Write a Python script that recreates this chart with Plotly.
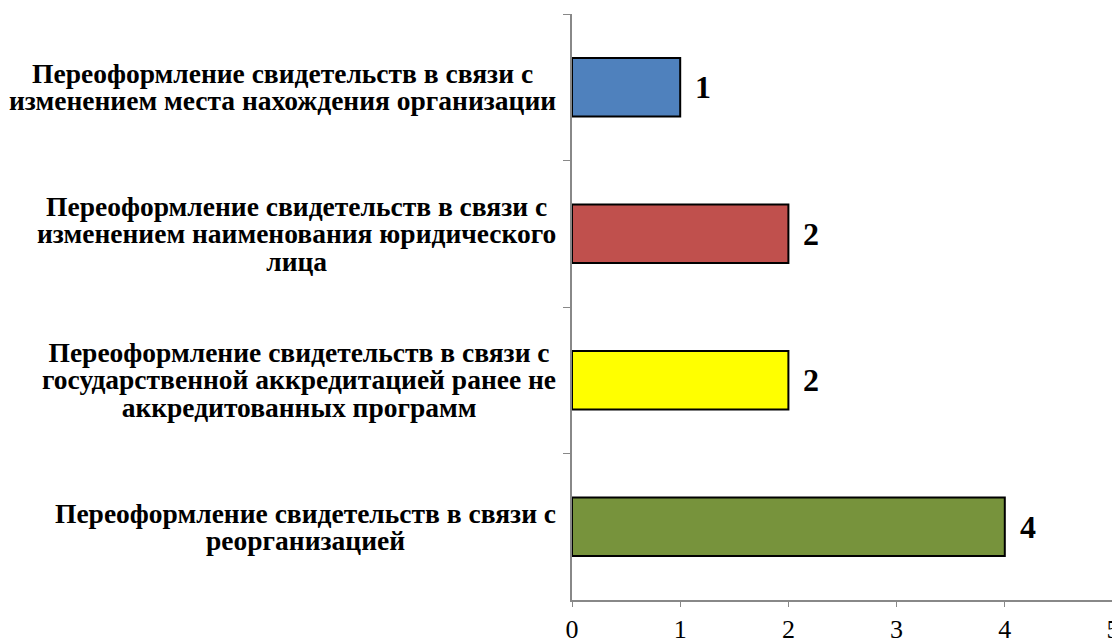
import plotly.graph_objects as go

categories = [
    "Переоформление свидетельств в связи с<br>изменением места нахождения организации",
    "Переоформление свидетельств в связи с<br>изменением наименования юридического<br>лица",
    "Переоформление свидетельств в связи с<br>государственной аккредитацией ранее не<br>аккредитованных программ",
    "Переоформление свидетельств в связи с<br>реорганизацией",
]
values = [1, 2, 2, 4]
colors = ["#4F81BD", "#C0504D", "#FFFF00", "#77933C"]
x_ticks = [0, 1, 2, 3, 4, 5]

fig = go.Figure()
fig.add_trace(go.Bar(
    y=categories, x=values, orientation="h",
    marker=dict(color=colors, line=dict(color="black", width=2)),
    hoverinfo="skip",
))

# category labels (centered multi-line, right-anchored near axis)
for c in categories:
    styled = "<br>".join('<span style="font-size:27.5px">%s</span>' % ln for ln in c.split("<br>"))
    fig.add_annotation(
        x=0, xref="x", y=c, yref="y", text=styled, showarrow=False,
        xanchor="right", xshift=-14, align="center",
        font=dict(family="Liberation Serif", size=21, color="black", weight="bold"),
    )
# value labels
for c, v in zip(categories, values):
    fig.add_annotation(
        x=v, xref="x", y=c, yref="y", text=str(v), showarrow=False,
        xanchor="left", xshift=13,
        font=dict(family="Liberation Serif", size=32, color="black", weight="bold"),
    )

# page body has an 8px margin, so figure is sized/offset to compensate
fig.update_layout(
    width=1112, height=632,
    margin=dict(l=564, r=7, t=6, b=40, autoexpand=False),
    paper_bgcolor="white", plot_bgcolor="white",
    bargap=0.6, showlegend=False,
    font=dict(family="Liberation Serif", color="black"),
)
fig.update_xaxes(
    range=[0, 5], tickvals=x_ticks, ticks="outside", ticklen=5, tickcolor="#888888",
    showline=True, linecolor="#888888", linewidth=1.5, showgrid=False, zeroline=False,
    tickfont=dict(family="Liberation Serif", size=26, color="black"),
)
fig.update_yaxes(
    autorange=False, range=[3.5, -0.5], categoryorder="array", categoryarray=categories,
    showticklabels=False, ticks="outside", tickson="boundaries", ticklen=7, tickcolor="#888888",
    showline=True, linecolor="#888888", linewidth=1.5, showgrid=False, zeroline=False,
)
fig.write_html("out.html")
